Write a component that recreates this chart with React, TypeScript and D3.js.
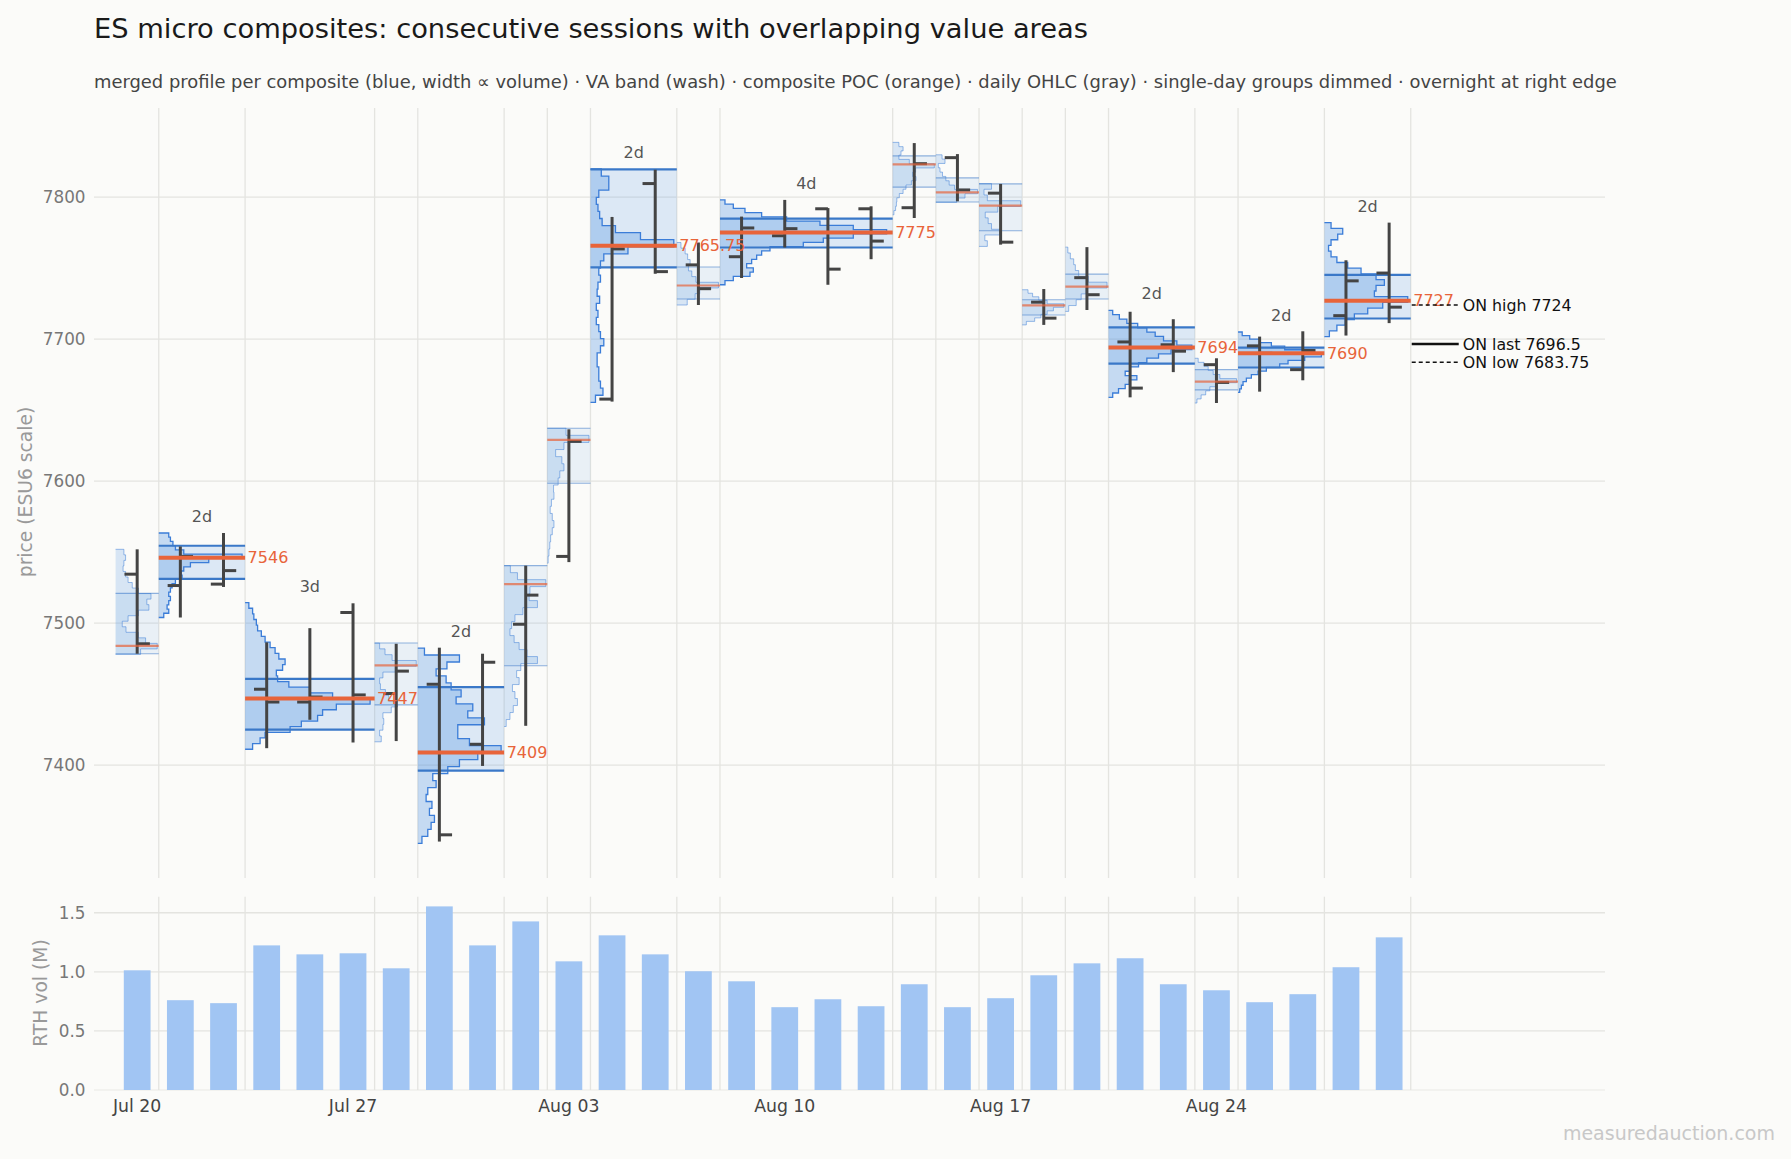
import * as d3 from "d3";

const W = 1791;
const H = 1159;

// trading-day index 0..29 (Jul 20 .. Aug 28), Monday ticks
const DATE_TICK_DAYS = [0, 5, 10, 15, 20, 25];
const DATE_TICK_LABELS = ["Jul 20", "Jul 27", "Aug 03", "Aug 10", "Aug 17", "Aug 24"];

// daily RTH OHLC
const OPEN = [7534.5, 7526.5, 7527.5, 7453.5, 7444.5, 7507.5, 7450.5, 7457, 7414.75, 7499.25,
  7547, 7657.75, 7809.5, 7752.25, 7758, 7772.75, 7791.75, 7791.75, 7792.5, 7827.75,
  7802.75, 7726, 7743.25, 7698, 7696, 7682, 7695.25, 7678.5, 7716.5, 7746.5];
const HIGH = [7552, 7554, 7563.5, 7486.5, 7496.5, 7514, 7485.5, 7482.75, 7478.5, 7540.5,
  7636.5, 7786, 7819.25, 7768, 7786.25, 7798, 7792.25, 7793.5, 7838, 7830.25,
  7809.25, 7735.25, 7764.75, 7719.25, 7714, 7686.5, 7701.75, 7705.5, 7755.5, 7782];
const LOW = [7478.5, 7504, 7525.5, 7412, 7432, 7416, 7417, 7346.25, 7399.5, 7427.75,
  7543, 7656, 7746, 7724, 7743, 7764.5, 7738.25, 7756.25, 7785.25, 7797,
  7766.5, 7710, 7720.5, 7659, 7676.75, 7655, 7663, 7671, 7702.5, 7711.25];
const CLOSE = [7485.5, 7547, 7537, 7444.5, 7448, 7449.5, 7466.25, 7351, 7472.5, 7519.75,
  7628, 7763.5, 7747.5, 7735.5, 7778.25, 7777.75, 7749.25, 7769, 7823.5, 7805,
  7768.25, 7714.75, 7731.25, 7665.5, 7691.5, 7669.5, 7690, 7692, 7741, 7722.5];

// RTH volume, millions
const RTH_VOL = [1.013, 0.76, 0.735, 1.224, 1.148, 1.157, 1.03, 1.554, 1.224, 1.427,
  1.089, 1.309, 1.148, 1.005, 0.92, 0.701, 0.768, 0.709, 0.895, 0.701,
  0.777, 0.971, 1.072, 1.115, 0.895, 0.844, 0.743, 0.811, 1.039, 1.292];

// composites (first / last trading day of each group)
const GROUP_FIRST = [0, 1, 3, 6, 7, 9, 10, 11, 13, 14, 18, 19, 20, 21, 22, 23, 25, 26, 28];
const GROUP_LAST = [0, 2, 5, 6, 8, 9, 10, 12, 13, 17, 18, 19, 20, 21, 22, 24, 25, 27, 29];
const PROF_HI = [7552, 7563.5, 7514.5, 7486, 7482.5, 7540.5, 7637.25, 7819.75, 7768, 7798,
  7838.5, 7829.75, 7809.5, 7734.75, 7764.75, 7720.25, 7686.5, 7705, 7782];
const PROF_LO = [7478, 7504, 7411.25, 7416.5, 7345, 7427.25, 7542.25, 7655.5, 7724, 7738.25,
  7787.5, 7796.25, 7765.25, 7710, 7719.5, 7659, 7655, 7662.5, 7701.75];
const VAH = [7521, 7554.5, 7460.75, 7486, 7455, 7540.5, 7637.25, 7819.5, 7750.75, 7784.75,
  7829, 7813.5, 7809.25, 7727.75, 7745.75, 7708.25, 7678.5, 7694, 7745.25];
const VAL = [7478.5, 7531.25, 7425, 7442.5, 7396.25, 7470, 7598.5, 7750.5, 7728.25, 7764.5,
  7807, 7796.5, 7776.25, 7717, 7728.25, 7682.75, 7664.25, 7680, 7714.5];
const POC = [7484, 7546, 7447, 7470.25, 7409, 7527.5, 7629, 7765.75, 7737.75, 7775,
  7823, 7803.25, 7794, 7723.75, 7737, 7694, 7670, 7690, 7727];

// merged volume profile per composite, relative width per price bin, top -> bottom
const PROFILES: number[][] = [
  [0.2, 0.24, 0.2, 0.18, 0.24, 0.3, 0.4, 0.55, 0.85, 0.75, 0.8, 0.55, 0.3, 0.16, 0.25, 0.55, 0.72, 1.0, 0.6],
  [0.12, 0.14, 0.17, 0.2, 0.3, 1.0, 0.6, 0.38, 0.3, 0.27, 0.28, 0.2, 0.16, 0.14, 0.12, 0.14, 0.12, 0.1, 0.12, 0.06],
  [0.03, 0.06, 0.07, 0.09, 0.1, 0.13, 0.16, 0.2, 0.24, 0.27, 0.32, 0.3, 0.25, 0.26, 0.35, 0.52, 0.7, 1.0, 0.73, 0.62, 0.58, 0.45, 0.36, 0.16, 0.12, 0.06],
  [0.12, 0.25, 0.42, 1.0, 0.5, 0.2, 0.12, 0.14, 0.26, 0.34, 0.55, 0.4, 0.2, 0.22, 0.2, 0.12, 0.16],
  [0.08, 0.5, 0.35, 0.22, 0.34, 0.4, 0.52, 0.46, 0.66, 0.6, 0.8, 0.48, 0.48, 0.62, 1.0, 0.72, 0.5, 0.36, 0.18, 0.22, 0.12, 0.1, 0.17, 0.14, 0.2, 0.16, 0.12, 0.05],
  [0.15, 0.32, 1.0, 0.62, 0.6, 0.8, 0.45, 0.26, 0.18, 0.14, 0.24, 0.36, 0.55, 0.8, 0.4, 0.3, 0.36, 0.2, 0.26, 0.32, 0.22, 0.14, 0.05],
  [0.45, 1.0, 0.4, 0.2, 0.35, 0.4, 0.3, 0.26, 0.15, 0.16, 0.1, 0.07, 0.12, 0.16, 0.12, 0.08, 0.06, 0.04, 0.02],
  [0.13, 0.22, 0.22, 0.1, 0.07, 0.09, 0.11, 0.14, 0.3, 0.6, 1.0, 0.45, 0.16, 0.12, 0.1, 0.12, 0.09, 0.08, 0.11, 0.07, 0.09, 0.07, 0.1, 0.12, 0.16, 0.12, 0.08, 0.08, 0.1, 0.1, 0.12, 0.15, 0.06],
  [0.1, 0.2, 0.26, 0.32, 0.28, 0.36, 0.46, 1.0, 0.55, 0.44, 0.25],
  [0.03, 0.08, 0.15, 0.25, 0.4, 0.6, 0.8, 1.0, 0.8, 0.62, 0.5, 0.3, 0.25, 0.22, 0.19, 0.16, 0.2, 0.18, 0.08, 0.03],
  [0.15, 0.25, 0.2, 0.15, 0.4, 1.0, 0.55, 0.48, 0.56, 0.45, 0.32, 0.25, 0.16, 0.1, 0.09, 0.07, 0.03],
  [0.15, 0.22, 0.06, 0.1, 0.16, 0.24, 0.32, 0.45, 1.0, 0.7, 0.5],
  [0.3, 0.12, 0.2, 1.0, 0.45, 0.15, 0.22, 0.3, 0.5, 0.14, 0.2],
  [0.14, 0.25, 0.4, 0.6, 1.0, 0.75, 0.6, 0.45, 0.3, 0.1],
  [0.06, 0.12, 0.2, 0.24, 0.32, 0.55, 1.0, 0.5, 0.38, 0.26, 0.08],
  [0.05, 0.13, 0.22, 0.35, 0.46, 0.56, 0.66, 0.82, 1.0, 0.75, 0.6, 0.46, 0.36, 0.26, 0.2, 0.34, 0.25, 0.2, 0.12, 0.05],
  [0.08, 0.22, 0.32, 0.44, 0.6, 1.0, 0.5, 0.36, 0.26, 0.15, 0.05],
  [0.05, 0.14, 0.26, 0.4, 0.56, 0.85, 1.0, 0.8, 0.6, 0.5, 0.34, 0.24, 0.16, 0.1, 0.06, 0.04, 0.02],
  [0.08, 0.22, 0.16, 0.08, 0.05, 0.08, 0.15, 0.28, 0.44, 0.62, 0.72, 0.62, 0.6, 1.0, 0.7, 0.52, 0.36, 0.25, 0.15, 0.06],
];

// overnight session levels
const ON_NAMES = ["ON high", "ON last", "ON low"];
const ON_LEVELS = [7724, 7696.5, 7683.75];

const PRICE_TICKS = [7400, 7500, 7600, 7700, 7800];
const VOL_TICKS = [0, 0.5, 1.0, 1.5];

const FONT = "'DejaVu Sans', Verdana, sans-serif";
const BLUE = "74,144,226";

export default function App() {
  const x = d3.scaleLinear().domain([-1, 34]).range([94, 1605]);
  const y = d3.scaleLinear().domain([7320.6, 7862.7]).range([878, 108]);
  const yv = d3.scaleLinear().domain([0, 1.636]).range([1090, 896.7]);
  const step = x(1) - x(0);
  const line = d3.line<[number, number]>();

  const groups = GROUP_FIRST.map((first, g) => {
    const last = GROUP_LAST[g];
    const n = last - first + 1;
    const left = x(first - 0.5);
    const right = x(last + 0.5);
    const maxW = (right - left) * 0.965;
    const widths = PROFILES[g];
    const bin = (PROF_HI[g] - PROF_LO[g]) / widths.length;
    const pts: [number, number][] = [[left, y(PROF_HI[g])]];
    widths.forEach((w, i) => {
      pts.push([left + w * maxW, y(PROF_HI[g] - i * bin)]);
      pts.push([left + w * maxW, y(PROF_HI[g] - (i + 1) * bin)]);
    });
    pts.push([left, y(PROF_LO[g])]);
    return { g, n, left, right, pts };
  });

  return (
    <svg width={W} height={H} style={{ position: "absolute", left: 0, top: 0, background: "#fbfbf9" }} fontFamily={FONT}>
      <rect width={W} height={H} fill="#fbfbf9" />
      <text x={94} y={38} fontSize={27.3} fill="#1a1a1a">ES micro composites: consecutive sessions with overlapping value areas</text>
      <text x={94} y={88} fontSize={17.9} fill="#444">merged profile per composite (blue, width ∝ volume) · VA band (wash) · composite POC (orange) · daily OHLC (gray) · single-day groups dimmed · overnight at right edge</text>

      {/* grid: price panel */}
      {PRICE_TICKS.map(t => (
        <g key={t}>
          <line x1={94} x2={1605} y1={y(t)} y2={y(t)} stroke="#e4e4e0" strokeWidth={1.3} />
          <text x={85.5} y={y(t)} dy="0.35em" textAnchor="end" fontSize={16.8} fill="#777">{t}</text>
        </g>
      ))}
      {/* grid: volume panel */}
      {VOL_TICKS.map(t => (
        <g key={t}>
          <line x1={94} x2={1605} y1={yv(t)} y2={yv(t)} stroke={t === 0 ? "#efefeb" : "#e4e4e0"} strokeWidth={1.3} />
          <text x={85.5} y={yv(t)} dy="0.35em" textAnchor="end" fontSize={16.8} fill="#777">{t.toFixed(1)}</text>
        </g>
      ))}
      {groups.map(({ g, right }) => (
        <g key={"v" + g}>
          <line x1={right} x2={right} y1={108} y2={878} stroke="#e4e4e0" strokeWidth={1.3} />
          <line x1={right} x2={right} y1={896.7} y2={1090} stroke="#e4e4e0" strokeWidth={1.3} />
        </g>
      ))}

      <text transform={`translate(25,492) rotate(-90)`} textAnchor="middle" dy="0.35em" fontSize={18.7} fill="#999">price (ESU6 scale)</text>
      <text transform={`translate(40,993) rotate(-90)`} textAnchor="middle" dy="0.35em" fontSize={18.7} fill="#999">RTH vol (M)</text>

      {/* composites: VA wash + profile */}
      {groups.map(({ g, n, left, right, pts }) => {
        const multi = n > 1;
        return (
          <g key={"p" + g}>
            <rect x={left} width={right - left} y={y(VAH[g])} height={y(VAL[g]) - y(VAH[g])}
              fill={`rgba(${BLUE},${multi ? 0.17 : 0.1})`} />
            <path d={line(pts)! + "Z"} fill={`rgba(${BLUE},${multi ? 0.3 : 0.2})`} stroke="none" />
            <path d={line(pts)!} fill="none" stroke={multi ? "#3b7dd8" : "rgba(59,125,216,0.5)"} strokeWidth={multi ? 1.3 : 1} />
            {[VAH[g], VAL[g]].map((v, k) => (
              <line key={k} x1={left} x2={right} y1={y(v)} y2={y(v)}
                stroke={multi ? "#3a78c8" : "rgba(58,120,200,0.55)"} strokeWidth={multi ? 2.2 : 1.1} />
            ))}
          </g>
        );
      })}

      {/* daily OHLC */}
      {OPEN.map((o, i) => (
        <g key={"d" + i} stroke="#444" strokeWidth={3}>
          <line x1={x(i)} x2={x(i)} y1={y(HIGH[i])} y2={y(LOW[i])} />
          <line x1={x(i) - 12.7} x2={x(i)} y1={y(o)} y2={y(o)} />
          <line x1={x(i)} x2={x(i) + 12.7} y1={y(CLOSE[i])} y2={y(CLOSE[i])} />
        </g>
      ))}

      {/* POC lines and labels */}
      {groups.map(({ g, n, left, right }) => {
        const multi = n > 1;
        return (
          <g key={"c" + g}>
            <line x1={left} x2={right} y1={y(POC[g])} y2={y(POC[g])}
              stroke={multi ? "#e8643a" : "rgba(232,100,58,0.7)"} strokeWidth={multi ? 4 : 2.2} />
            {multi && (
              <>
                <text x={right + 2.5} y={y(POC[g])} dy="0.35em" fontSize={16} fill="#e8643a">{String(POC[g])}</text>
                <text x={(left + right) / 2} y={y(PROF_HI[g]) - 11} textAnchor="middle" fontSize={16} fill="#555">{n}d</text>
              </>
            )}
          </g>
        );
      })}

      {/* overnight */}
      {ON_LEVELS.map((v, k) => (
        <g key={"on" + k}>
          <line x1={x(29.5) + 1} x2={x(29.5) + 48} y1={y(v)} y2={y(v)} stroke="#111"
            strokeWidth={k === 1 ? 2.6 : 1.5} strokeDasharray={k === 1 ? undefined : "4,3"} />
          <text x={x(29.5) + 52} y={y(v)} dy="0.35em" fontSize={15.8} fill="#111">{ON_NAMES[k]} {v}</text>
        </g>
      ))}

      {/* volume bars */}
      {RTH_VOL.map((v, i) => (
        <rect key={"b" + i} x={x(i) - step * 0.31} width={step * 0.62} y={yv(v)} height={yv(0) - yv(v)} fill="#a1c5f3" />
      ))}
      {DATE_TICK_DAYS.map((d, k) => (
        <text key={"t" + k} x={x(d)} y={1111.5} textAnchor="middle" fontSize={17.3} fill="#444">{DATE_TICK_LABELS[k]}</text>
      ))}

      <text x={1775} y={1140} textAnchor="end" fontSize={19} fill="#c8c8c8">measuredauction.com</text>
    </svg>
  );
}
